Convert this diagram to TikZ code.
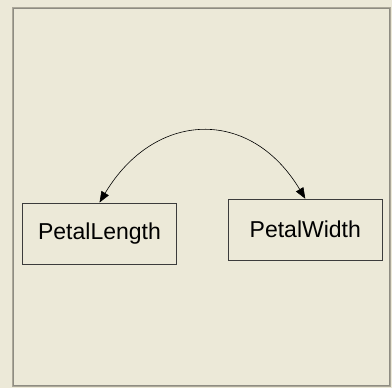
\documentclass[tikz,border=0pt]{standalone}
\usepackage{fontspec}
\setmainfont{Liberation Sans}
\usepackage{xcolor}
\usetikzlibrary{arrows.meta}
\definecolor{panelbg}{HTML}{ECE9D8}
\definecolor{frameout}{HTML}{ACA899}
\definecolor{framein}{HTML}{8E8C82}
\definecolor{boxline}{HTML}{3C3C3C}

\begin{document}
\begin{tikzpicture}[x=1pt, y=-1pt,
  varbox/.style={draw=boxline, line width=0.9pt, minimum width=154pt,
    minimum height=61pt, inner sep=0pt, font=\fontsize{23}{27}\selectfont},
  covarrow/.style={line width=0.6pt, {Triangle[length=11pt,width=8.5pt]}-{Triangle[length=11pt,width=8.5pt]}}]
  % Panel background and sunken frame
  \fill[panelbg] (0,0) rectangle (392,388);
  \draw[frameout, line width=1pt] (12.5,7.5) rectangle (390.5,386.5);
  \draw[framein, line width=1pt] (13.5,8.5) rectangle (389.5,385.5);

  % The two observed variables
  \node[varbox] (len) at (99.5,233.5) {PetalLength};
  \node[varbox] (wid) at (305.3,229.7) {PetalWidth};

  % Two-headed covariance arrow
  \draw[covarrow] (len.north) .. controls +(55,-92) and +(-55,-92) .. (wid.north);
\end{tikzpicture}
\end{document}
